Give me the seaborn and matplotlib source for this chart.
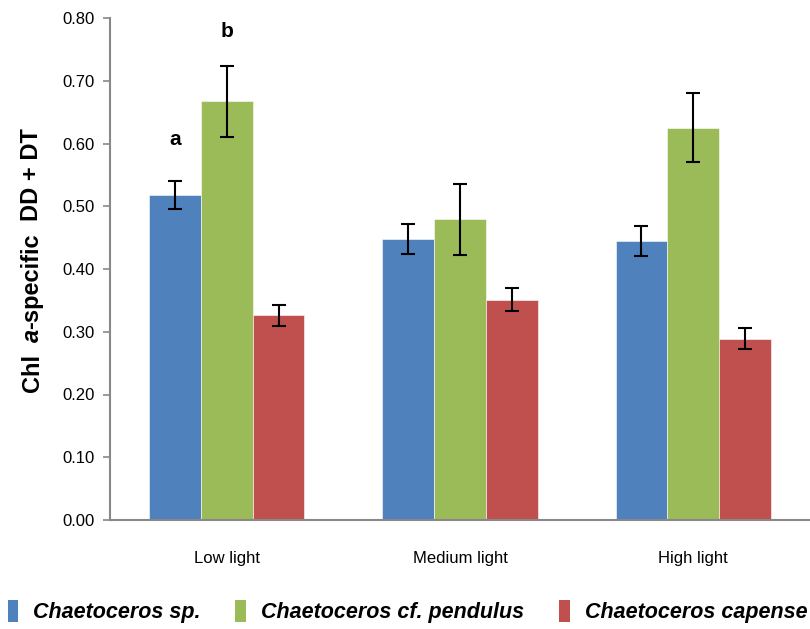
import matplotlib
matplotlib.use("Agg")
import matplotlib.pyplot as plt
import seaborn as sns
import pandas as pd
import numpy as np
from matplotlib.patches import Patch

categories = ["Low light", "Medium light", "High light"]
species = ["Chaetoceros sp.", "Chaetoceros cf. pendulus", "Chaetoceros capense"]
values_sp = [0.518, 0.448, 0.445]
values_pendulus = [0.667, 0.479, 0.625]
values_capense = [0.326, 0.351, 0.289]
err_sp = [0.023, 0.024, 0.024]
err_pendulus = [0.057, 0.057, 0.055]
err_capense = [0.017, 0.018, 0.017]
colors = ["#4F81BD", "#9BBB59", "#C0504D"]
yticks = [0.0, 0.1, 0.2, 0.3, 0.4, 0.5, 0.6, 0.7, 0.8]

sns.set_style("white")
plt.rcParams["font.family"] = ["Liberation Sans", "DejaVu Sans"]
for k in ["text.color", "axes.labelcolor", "xtick.color", "ytick.color"]:
    plt.rcParams[k] = "black"

rows = []
for sp, vals, errs in zip(species, [values_sp, values_pendulus, values_capense],
                          [err_sp, err_pendulus, err_capense]):
    for c, v, e in zip(categories, vals, errs):
        rows.append({"Light": c, "Species": sp, "Value": v, "Err": e})
df = pd.DataFrame(rows)

fig = plt.figure(figsize=(8.10, 6.29), dpi=100)
ax = fig.add_axes([110/810, 1-520/629, 1-110/810, (520-18)/629])

sns.barplot(data=df, x="Light", y="Value", hue="Species", order=categories,
            hue_order=species, palette=colors, width=0.667, errorbar=None,
            saturation=1, ax=ax, legend=False, edgecolor="white", linewidth=0.4)

bars = [p for p in ax.patches]
for i, sp in enumerate(species):
    sub = df[df.Species == sp].set_index("Light").loc[categories]
    for j, c in enumerate(categories):
        p = bars[i*len(categories) + j]
        xc = p.get_x() + p.get_width()/2
        ax.errorbar(xc, sub.loc[c, "Value"], yerr=sub.loc[c, "Err"], fmt="none",
                    ecolor="black", elinewidth=1.5, capsize=5, capthick=1.5, zorder=5)

p_a = bars[0]
p_b = bars[3]
ax.text(p_a.get_x() + p_a.get_width()/2, 0.607, "a", ha="center", va="center",
        fontsize=15, fontweight="bold", color="black")
ax.text(p_b.get_x() + p_b.get_width()/2, 0.779, "b", ha="center", va="center",
        fontsize=15, fontweight="bold", color="black")

ax.set_xlim(-0.5, 2.5)
ax.set_ylim(0, 0.8)
ax.set_yticks(yticks)
ax.set_yticklabels([f"{t:.2f}" for t in yticks], fontsize=12)
ax.set_xticks(range(len(categories)))
ax.set_xticklabels(categories, fontsize=12)
ax.set_xticks([-0.5, 0.5, 1.5, 2.5], minor=True)
ax.tick_params(axis="x", which="major", length=0, pad=22)
ax.tick_params(axis="x", which="minor", length=6, width=1.2, color="#888888", direction="out")
ax.tick_params(axis="y", length=5, width=1.2, color="#888888", direction="out", left=True, pad=6)
ax.set_xlabel("")
ax.set_ylabel("")

for s in ["top", "right"]:
    ax.spines[s].set_visible(False)
for s in ["left", "bottom"]:
    ax.spines[s].set_color("#888888")
    ax.spines[s].set_linewidth(1.5)

# y label built from pieces (bold + bold italic "a")
fig.canvas.draw()
renderer = fig.canvas.get_renderer()
pieces = [("Chl", "normal", 12), ("a", "italic", 0), ("-specific", "normal", 13),
          ("DD + DT", "normal", 0)]
xlab = 32 / 810
texts = []
heights = []
for s, style, gap in pieces:
    t = fig.text(xlab, 0, s, rotation=90, ha="center", va="bottom", fontsize=17,
                 fontweight="bold", style=style, color="black")
    bb = t.get_window_extent(renderer)
    texts.append(t)
    heights.append(bb.height + gap)
total = sum(heights)
ycenter_px = 629 - 260
y = ycenter_px - total / 2
for t, h in zip(texts, heights):
    t.set_y(y / 629)
    y += h

handles = [Patch(facecolor=c, edgecolor="none") for c in colors]
leg = fig.legend(handles, species, loc="lower center", bbox_to_anchor=(0.503, -0.022),
                 ncol=3, frameon=False, handlelength=0.5, handleheight=1.15,
                 handletextpad=0.7, columnspacing=1.6,
                 prop={"family": "Liberation Sans", "style": "italic", "weight": "bold", "size": 15.5})
for t in leg.get_texts():
    t.set_color("black")

fig.savefig("out.png", dpi=100)
